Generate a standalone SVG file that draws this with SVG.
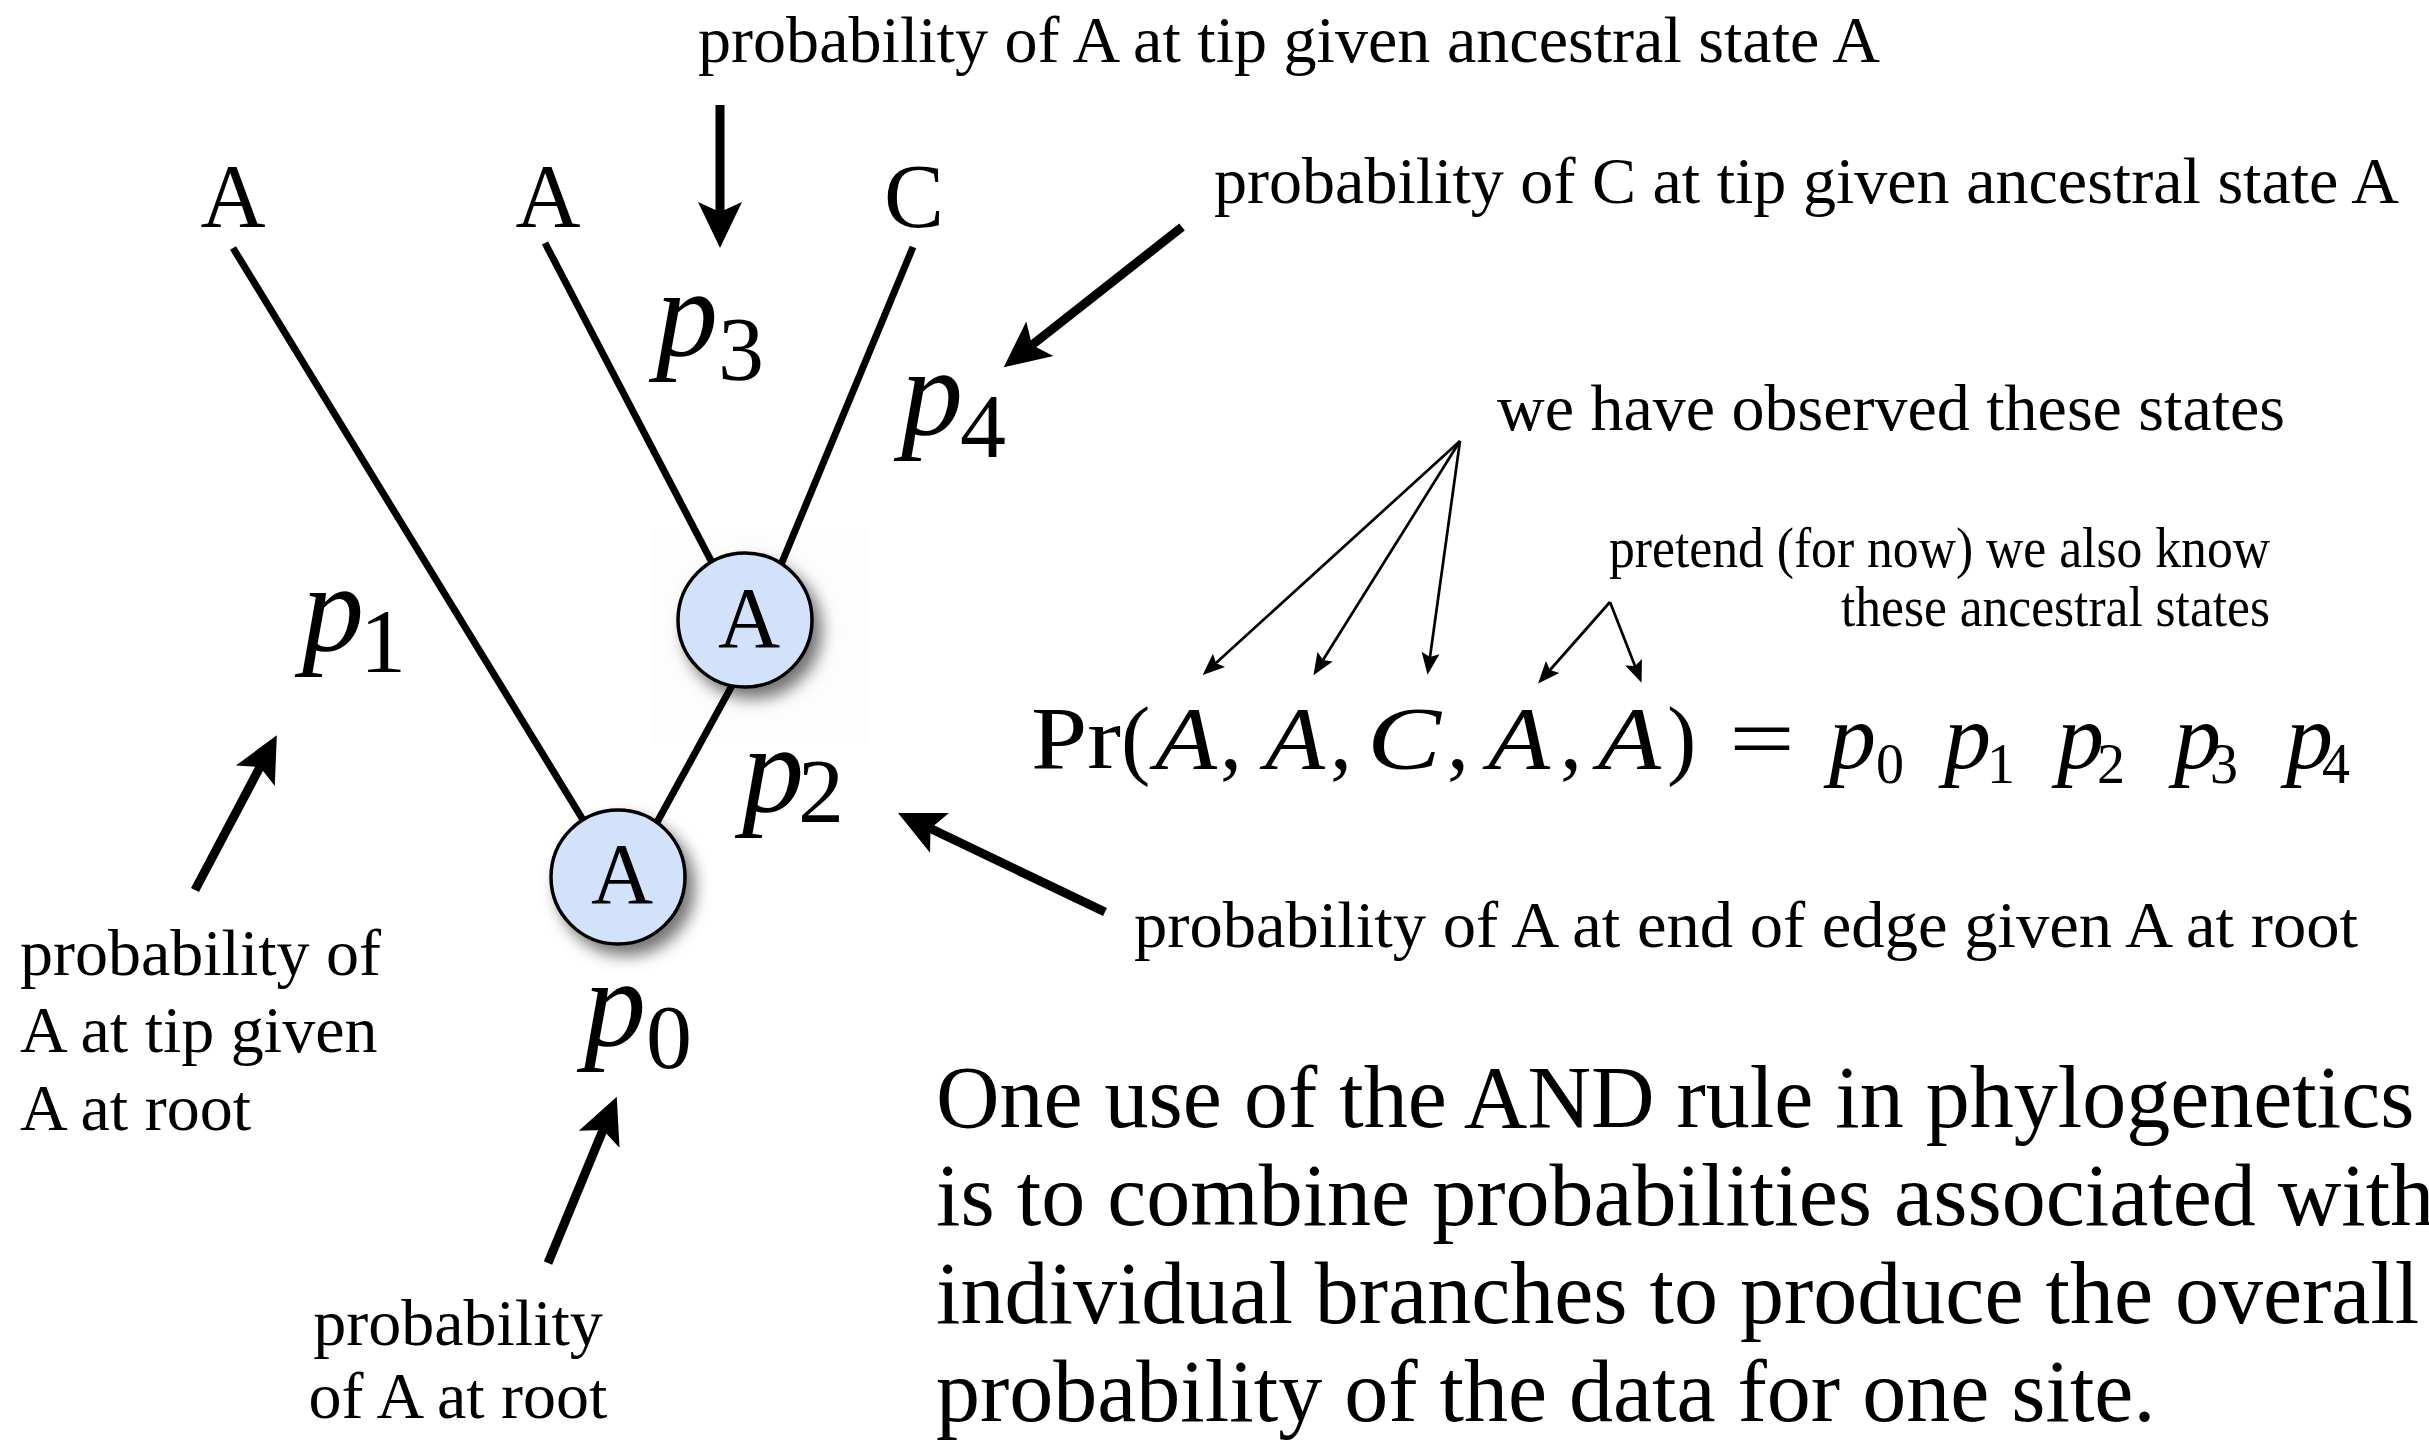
<svg xmlns="http://www.w3.org/2000/svg" width="2429" height="1441" viewBox="0 0 2429 1441">
<style>
text{font-family:"Liberation Serif","Times New Roman",serif;fill:#000}
.ann{font-size:66px}
.sm{font-size:57px}
.lbl{font-size:66px}
.tip{font-size:90px;text-anchor:middle}
.mi{font-style:italic}
.pb{font-size:124px;font-style:italic}
.ps{font-size:92px}
.fm{font-size:88px}
.fp{font-size:94px;font-style:italic}
.fs{font-size:56px}
.br{stroke:#000;stroke-width:7;fill:none}
.thick{stroke:#000;stroke-width:9;fill:none;marker-end:url(#ah)}
.thin{stroke:#000;stroke-width:2.7;fill:none;marker-end:url(#ahs)}
.node{fill:#d3e2fb;stroke:#000;stroke-width:3.5;filter:url(#sh)}
.nl{font-size:86px;text-anchor:middle}
.para{font-size:88px}
</style>
<defs>
<marker id="ah" markerUnits="userSpaceOnUse" markerWidth="100" markerHeight="100" refX="0" refY="0" orient="auto" overflow="visible">
<path d="M36,0 L-10,-22 L0,0 L-10,22 Z" fill="#000"/>
</marker>
<marker id="ahs" markerUnits="userSpaceOnUse" markerWidth="40" markerHeight="40" refX="0" refY="0" orient="auto" overflow="visible">
<path d="M18,0 L-4,-9 L0,0 L-4,9 Z" fill="#000"/>
</marker>
<filter id="sh" x="-50%" y="-50%" width="200%" height="200%">
<feDropShadow dx="8" dy="10" stdDeviation="8" flood-color="#000" flood-opacity="0.55"/>
</filter>
</defs>
<rect x="653" y="530" width="215" height="213" fill="#fdfdfd"/>
<g id="connectors">
<line class="br" x1="233" y1="248" x2="618" y2="877"/>
<line class="br" x1="545" y1="243" x2="742" y2="620"/>
<line class="br" x1="913" y1="247" x2="758" y2="620"/>
<line class="br" x1="768" y1="620" x2="627" y2="877"/>
<line class="thick" x1="720" y1="105" x2="720" y2="212"/>
<line class="thick" x1="1182" y1="227" x2="1032" y2="345"/>
<line class="thick" x1="195" y1="890" x2="260" y2="767"/>
<line class="thick" x1="1105" y1="912" x2="930.5" y2="828.5"/>
<line class="thick" x1="548" y1="1263" x2="603" y2="1130"/>
<line class="thin" x1="1460" y1="441" x2="1216" y2="663"/>
<line class="thin" x1="1460" y1="441" x2="1323" y2="660"/>
<line class="thin" x1="1460" y1="441" x2="1430" y2="657"/>
<line class="thin" x1="1610" y1="602" x2="1550" y2="670"/>
<line class="thin" x1="1610" y1="602" x2="1635" y2="666"/>
</g>
<g id="node-upper">
<circle class="node" cx="745" cy="620" r="67"/>
<text class="nl" x="749" y="647">A</text>
</g>
<g id="node-root">
<circle class="node" cx="618" cy="877" r="67"/>
<text class="nl" x="622" y="903">A</text>
</g>
<g id="tip-1"><text class="tip" x="233" y="227">A</text></g>
<g id="tip-2"><text class="tip" x="548" y="227">A</text></g>
<g id="tip-3"><text class="tip" x="914" y="227">C</text></g>
<g id="branch-labels">
<text class="pb" x="656" y="355">p</text><text class="ps" x="718" y="380">3</text>
<text class="pb" x="901" y="434">p</text><text class="ps" x="960" y="457">4</text>
<text class="pb" x="302" y="650">p</text><text class="ps" x="360" y="672">1</text>
<text class="pb" x="742" y="811">p</text><text class="ps" x="798" y="822">2</text>
<text class="pb" x="584" y="1045">p</text><text class="ps" x="646" y="1068">0</text>
</g>
<g id="annotations">
<text class="ann" x="698" y="62" textLength="1182" lengthAdjust="spacingAndGlyphs">probability of A at tip given ancestral state A</text>
<text class="ann" x="1214" y="203" textLength="1185" lengthAdjust="spacingAndGlyphs">probability of C at tip given ancestral state A</text>
<text class="ann" x="1497" y="430" textLength="788" lengthAdjust="spacingAndGlyphs">we have observed these states</text>
<text class="sm" x="1609" y="567" textLength="661" lengthAdjust="spacingAndGlyphs">pretend (for now) we also know</text>
<text class="sm" x="1841" y="626" textLength="429" lengthAdjust="spacingAndGlyphs">these ancestral states</text>
<text class="ann" x="1134" y="947" textLength="1224" lengthAdjust="spacingAndGlyphs">probability of A at end of edge given A at root</text>
<text class="lbl" x="20" y="975">probability of</text>
<text class="lbl" x="20" y="1052">A at tip given</text>
<text class="lbl" x="20" y="1130">A at root</text>
<text class="lbl" x="458" y="1345" text-anchor="middle">probability</text>
<text class="lbl" x="458" y="1418" text-anchor="middle">of A at root</text>
</g>
<g id="formula">
<text class="fm" x="1031" y="768" textLength="90" lengthAdjust="spacingAndGlyphs">Pr</text>
<text class="fm" x="1121" y="768">(</text>
<text class="fm mi" x="1155" y="768" textLength="62" lengthAdjust="spacingAndGlyphs">A</text>
<text class="fm" x="1220" y="768">,</text>
<text class="fm mi" x="1265" y="768" textLength="60" lengthAdjust="spacingAndGlyphs">A</text>
<text class="fm" x="1330" y="768">,</text>
<text class="fm mi" x="1367" y="768" textLength="74" lengthAdjust="spacingAndGlyphs">C</text>
<text class="fm" x="1447" y="768">,</text>
<text class="fm mi" x="1488" y="768" textLength="62" lengthAdjust="spacingAndGlyphs">A</text>
<text class="fm" x="1560" y="768">,</text>
<text class="fm mi" x="1598" y="768" textLength="63" lengthAdjust="spacingAndGlyphs">A</text>
<text class="fm" x="1667" y="768">)</text>
<text class="fm" x="1729" y="768" textLength="66" lengthAdjust="spacingAndGlyphs">=</text>
<text class="fp" x="1829" y="768">p</text><text class="fs" x="1876" y="783">0</text>
<text class="fp" x="1944" y="768">p</text><text class="fs" x="1987" y="783">1</text>
<text class="fp" x="2057" y="768">p</text><text class="fs" x="2097" y="783">2</text>
<text class="fp" x="2174" y="768">p</text><text class="fs" x="2210" y="783">3</text>
<text class="fp" x="2286" y="768">p</text><text class="fs" x="2322" y="783">4</text>
</g>
<g id="paragraph">
<text class="para" x="936" y="1127">One use of the AND rule in phylogenetics</text>
<text class="para" x="936" y="1225">is to combine probabilities associated with</text>
<text class="para" x="936" y="1323">individual branches to produce the overall</text>
<text class="para" x="936" y="1421">probability of the data for one site.</text>
</g>
</svg>
